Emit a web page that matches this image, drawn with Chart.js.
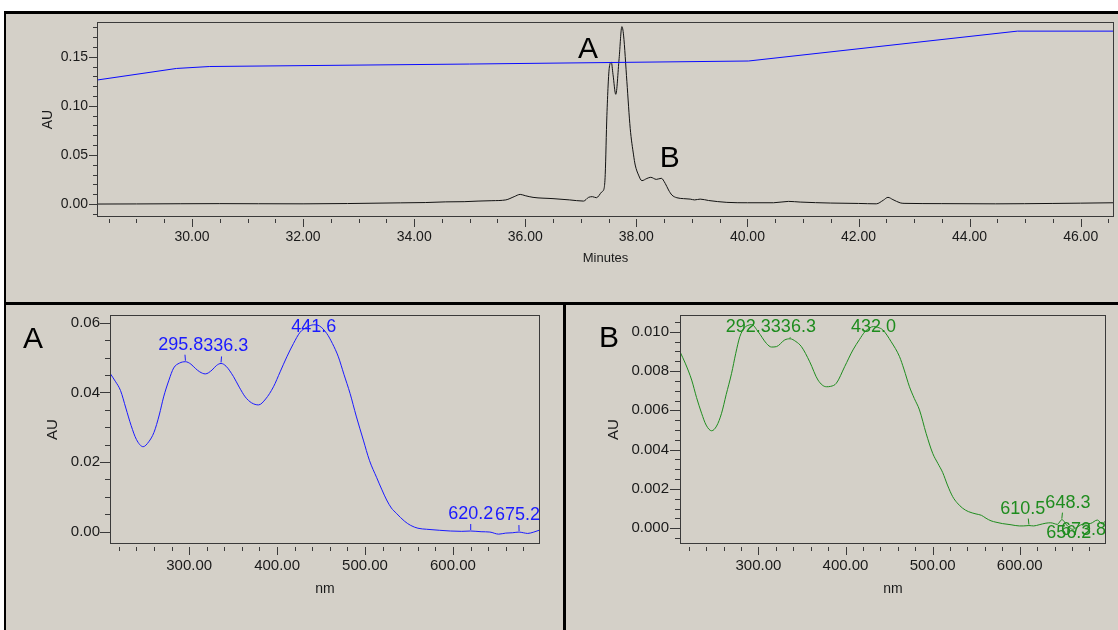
<!DOCTYPE html>
<html>
<head>
<meta charset="utf-8">
<script src="https://cdn.jsdelivr.net/npm/chart.js@4.4.1/dist/chart.umd.min.js"></script>
<style>
  html, body { margin: 0; padding: 0; background: #fff; width: 1118px; height: 630px; overflow: hidden; }
  .frame { position: absolute; left: 4px; top: 11px; width: 1114px; height: 619px; background: #000; }
  .panel { position: absolute; background: #d4d0c8; }
  .panel canvas { position: absolute; left: 0; top: 0; }
</style>
</head>
<body>
<div class="frame"></div>
<div class="panel" style="left:6px;top:14px;width:1112px;height:288px"><canvas id="chrom" width="1112" height="288"></canvas></div>
<div class="panel" style="left:6px;top:305px;width:557px;height:325px"><canvas id="specA" width="557" height="325"></canvas></div>
<div class="panel" style="left:566px;top:305px;width:552px;height:325px"><canvas id="specB" width="552" height="325"></canvas></div>
<script>
const FONT = "'Liberation Sans', Arial, Helvetica, sans-serif";

// ---- Chromatogram (AU vs retention time, minutes) ----
const retentionTime = [
  28.30, 29.00, 29.80, 30.50, 31.20, 32.00, 32.80, 33.75, 34.20, 34.57, 34.90, 35.15, 35.40, 35.65,
  35.80, 35.91, 36.00, 36.14, 36.50, 36.80, 37.05, 37.14, 37.21, 37.28, 37.38, 37.42, 37.44, 37.47,
  37.515, 37.55, 37.58, 37.63, 37.69, 37.74, 37.77, 37.83, 37.89, 37.95, 37.98, 38.04, 38.10, 38.19,
  38.26, 38.36, 38.45, 38.52, 38.58, 38.64, 38.73, 38.85, 38.97, 39.05, 39.15, 39.30, 39.63, 40.00,
  40.47, 40.74, 40.95, 41.50, 42.00, 42.32, 42.45, 42.53, 42.62, 42.75, 42.82, 43.50, 44.47, 45.50,
  46.00, 46.60
];
const absorbance = [
  0.0000, 0.0001, 0.0003, 0.0004, 0.0003, 0.0002, 0.0005, 0.0012, 0.0015, 0.0022, 0.0024, 0.0030, 0.0034, 0.0042,
  0.0075, 0.0098, 0.0085, 0.0068, 0.0055, 0.0042, 0.0030, 0.0068, 0.0075, 0.0064, 0.0125, 0.0160, 0.0300, 0.0900,
  0.1395, 0.1443, 0.1320, 0.1117, 0.1480, 0.1806, 0.1720, 0.1246, 0.0770, 0.0500, 0.0397, 0.0295, 0.0238, 0.0260,
  0.0272, 0.0251, 0.0262, 0.0210, 0.0143, 0.0092, 0.0064, 0.0055, 0.0050, 0.0042, 0.0050, 0.0036, 0.0017, 0.0013,
  0.0013, 0.0027, 0.0020, 0.0010, 0.0006, 0.0002, 0.0040, 0.0068, 0.0045, 0.0012, 0.0007, 0.0004, 0.0002, 0.0006,
  0.0009, 0.0013
];
const gradientTime  = [28.30, 29.72, 30.32, 35.00, 40.02, 44.86, 46.60];
const gradientLevel = [0.1263, 0.1380, 0.1400, 0.1425, 0.1456, 0.1760, 0.1760];
const timeTicks = [30, 32, 34, 36, 38, 40, 42, 44, 46];
const chromAuTicks = [0.00, 0.05, 0.10, 0.15];

// ---- UV/Vis spectra (AU vs wavelength, nm) ----
const wavelengthA = [
  210, 216, 222, 228, 234, 240, 247.7, 254, 260, 266, 271, 277, 282.4, 289, 295.8, 302, 307, 312, 318.4,
  326, 331, 336.3, 342, 350.5, 357, 363.8, 371, 378.9, 387, 395.9, 403.5, 411.1, 418.6, 426, 433.8, 441.6,
  448, 456.5, 463, 469.7, 476, 483, 490, 498.1, 505, 513.3, 519.3, 524.6, 530, 535.6, 545, 552, 560.2,
  570, 585, 597, 610, 620.2, 632, 642, 652, 660, 668, 675.2, 680, 685, 692, 699
];
const spectrumA = [
  0.0455, 0.0432, 0.0405, 0.0355, 0.0305, 0.0265, 0.0244, 0.0258, 0.0285, 0.0335, 0.0387, 0.0435, 0.0470, 0.0484, 0.0488, 0.0481, 0.0469, 0.0459, 0.0453,
  0.0464, 0.0477, 0.0483, 0.0475, 0.0445, 0.0415, 0.0387, 0.0370, 0.0364, 0.0381, 0.0416, 0.0459, 0.0502, 0.0540, 0.0572, 0.0587, 0.0594,
  0.0591, 0.0569, 0.0540, 0.0502, 0.0452, 0.0397, 0.0332, 0.0263, 0.0205, 0.0155, 0.0120, 0.0091, 0.0068, 0.0053, 0.0030, 0.0018, 0.0010,
  0.0007, 0.0004, 0.0002, 0.0001, 0.0002, 0.0000, -0.0001, -0.0007, -0.0004, -0.0003, -0.0001, -0.0003, -0.0005, -0.0001, 0.0005
];
const wavelengthB = [
  210, 216, 223.4, 229, 234.8, 240, 246.3, 252, 257.7, 263, 269.2, 274, 278.7, 284, 288, 292.3, 299.7, 309.3, 315,
  320.7, 330.2, 336.3, 343, 349.4, 358.9, 368.4, 378, 383, 389.5, 399, 408.5, 416, 421.9, 428, 432.0, 437, 442.8,
  452.4, 462, 467, 473.4, 479, 484.9, 492.5, 500.1, 506, 511.6, 517, 523, 528, 534.5, 541, 549.8, 556, 561.3,
  567, 572.7, 580, 590, 599.5, 604, 610.5, 616, 622.2, 630, 635.6, 643.2, 648.3, 654.7, 656.2, 660.4, 666,
  670, 673.8, 681.5, 689.1, 694.8, 699
];
const spectrumB = [
  0.00898, 0.00840, 0.00754, 0.00665, 0.00585, 0.00525, 0.00496, 0.00520, 0.00585, 0.00680, 0.00788, 0.00890, 0.00975, 0.01020, 0.01032, 0.01036, 0.01000, 0.00940, 0.00922,
  0.00924, 0.00958, 0.00964, 0.00950, 0.00924, 0.00847, 0.00754, 0.00720, 0.00722, 0.00738, 0.00822, 0.00907, 0.00960, 0.00998, 0.01020, 0.01026, 0.01022, 0.01009,
  0.00949, 0.00873, 0.00810, 0.00720, 0.00660, 0.00602, 0.00483, 0.00381, 0.00330, 0.00283, 0.00220, 0.00161, 0.00130, 0.00102, 0.00085, 0.00073, 0.00066, 0.00051,
  0.00038, 0.00031, 0.00024, 0.00018, 0.00012, 0.00012, 0.00014, 0.00012, 0.00018, 0.00026, 0.00028, 0.00020, 0.00044, 0.00012, 0.00008, -0.00005, 0.00006,
  0.00017, 0.00022, 0.00025, 0.00042, 0.00022, 0.00042
];
const nmTicks = [300, 400, 500, 600];
const spectrumAuTicksA = [0.00, 0.02, 0.04, 0.06];
const spectrumAuTicksB = [0.000, 0.002, 0.004, 0.006, 0.008, 0.010];
const apexWavelengthsA = [295.8, 336.3, 441.6, 620.2, 675.2];
const apexWavelengthsB = [292.3, 336.3, 432.0, 610.5, 648.3, 656.2, 673.8];

const toPoints = (xs, ys) => xs.map((x, i) => ({ x, y: ys[i] }));

// Plot frame plus major/minor tick marks drawn outside the plot area
const axisFrame = {
  id: 'axisFrame',
  afterDatasetsDraw(chart, args, o) {
    const { ctx, chartArea: a } = chart;
    const xs = chart.scales.x, ys = chart.scales.y;
    ctx.save();
    ctx.strokeStyle = o.color;
    ctx.lineWidth = 1;
    const L = Math.round(a.left) + 0.5, T = Math.round(a.top) + 0.5;
    const R = Math.round(a.right) - 0.5, B = Math.round(a.bottom) - 0.5;
    ctx.strokeRect(L, T, R - L, B - T);
    const each = (scale, step, fn) => {
      const n0 = Math.ceil(scale.min / step - 1e-6), n1 = Math.floor(scale.max / step + 1e-6);
      for (let n = n0; n <= n1; n++) fn(n * step);
    };
    const isMajor = (v, step) => Math.abs(v / step - Math.round(v / step)) < 1e-6;
    each(xs, o.xMinor, v => {
      const px = Math.round(xs.getPixelForValue(v)) + 0.5;
      const y0 = B + 0.5 + o.xGap;
      ctx.beginPath();
      ctx.moveTo(px, y0);
      ctx.lineTo(px, y0 + (isMajor(v, o.xMajor) ? o.xMajorLen : o.xMinorLen));
      ctx.stroke();
    });
    each(ys, o.yMinor, v => {
      const py = Math.round(ys.getPixelForValue(v)) + 0.5;
      ctx.beginPath();
      ctx.moveTo(L - 0.5, py);
      ctx.lineTo(L - 0.5 - (isMajor(v, o.yMajor) ? o.yMajorLen : o.yMinorLen), py);
      ctx.stroke();
    });
    ctx.restore();
  }
};

// Wavelength labels at spectral maxima, spread apart when they collide
const apexLabels = {
  id: 'apexLabels',
  afterDatasetsDraw(chart, args, o) {
    if (!o.values) return;
    const { ctx, chartArea: a } = chart;
    const xs = chart.scales.x, ys = chart.scales.y;
    const pts = chart.data.datasets[0].data;
    ctx.save();
    ctx.font = o.font;
    ctx.fillStyle = o.color;
    ctx.strokeStyle = o.color;
    ctx.lineWidth = 1;
    const items = o.values.map(v => {
      const p = pts.find(q => Math.abs(q.x - v) < 1e-6);
      const text = v.toFixed(1);
      const px = xs.getPixelForValue(v), py = ys.getPixelForValue(p.y);
      return { text, px, py, cx: px, w: ctx.measureText(text).width, row: 0 };
    }).sort((m, n) => m.px - n.px);
    const upper = [];
    items.forEach(it => {
      const prev = upper[upper.length - 1];
      if (prev && (prev.px + prev.w / 2) - (it.px - it.w / 2) > it.w / 3) it.row = 1;
      else upper.push(it);
    });
    for (let i = 1; i < upper.length; i++) {
      const p = upper[i - 1], c = upper[i];
      const ov = (p.cx + p.w / 2) - (c.cx - c.w / 2);
      if (ov > 0) { p.cx -= ov / 2; c.cx += ov / 2; }
    }
    items.forEach(it => {
      it.cx = Math.min(Math.max(it.cx, a.left + it.w / 2), a.right - it.w / 2);
      ctx.textAlign = 'center';
      ctx.textBaseline = 'alphabetic';
      if (it.row === 0) {
        const base = Math.max(it.py - 12, a.top + 17);
        ctx.fillText(it.text, it.cx, base);
        if (base + 5 < it.py - 1) {
          ctx.beginPath();
          ctx.moveTo(it.px + (it.cx - it.px) * 0.1, base + 5);
          ctx.lineTo(it.px, it.py - 1);
          ctx.stroke();
        }
      } else {
        ctx.fillText(it.text, it.cx, it.py + 11);
      }
    });
    ctx.restore();
  }
};

// Large peak letters
const peakTags = {
  id: 'peakTags',
  afterDraw(chart, args, o) {
    if (!o.items) return;
    const { ctx, chartArea: a } = chart;
    ctx.save();
    ctx.font = o.font;
    ctx.fillStyle = '#000';
    ctx.textAlign = 'center';
    ctx.textBaseline = 'alphabetic';
    o.items.forEach(t => {
      const x = t.time !== undefined ? chart.scales.x.getPixelForValue(t.time) : a.left + t.dx;
      const y = t.au !== undefined ? chart.scales.y.getPixelForValue(t.au) : a.top + t.dy;
      ctx.fillText(t.text, x, y);
    });
    ctx.restore();
  }
};

Chart.register(axisFrame, apexLabels, peakTags);

// Fixed axis box sizes; label overhang is not allowed to shrink the plot area
function fixBox(size, key) {
  return s => {
    s[key] = size;
    s.paddingTop = 0; s.paddingBottom = 0; s.paddingLeft = 0; s.paddingRight = 0;
  };
}

function scalePair(c) {
  const tickFont = { family: FONT, size: c.tickSize };
  return {
    x: {
      type: 'linear', min: c.xMin, max: c.xMax,
      afterBuildTicks: s => { s.ticks = c.xTicks.map(value => ({ value })); },
      afterFit: fixBox(c.xHeight, 'height'),
      grid: { display: false, drawTicks: false },
      border: { display: false },
      ticks: { autoSkip: false, maxRotation: 0, minRotation: 0, padding: c.xPad, color: '#1a1a1a', font: tickFont,
               callback: v => Number(v).toFixed(c.xDigits) },
      title: { display: true, text: c.xTitle, color: '#1a1a1a', font: { family: FONT, size: c.xTitleSize },
               padding: { top: 0, bottom: c.xTitlePad } }
    },
    y: {
      type: 'linear', min: c.yMin, max: c.yMax,
      afterBuildTicks: s => { s.ticks = c.yTicks.map(value => ({ value })); },
      afterFit: fixBox(c.yWidth, 'width'),
      grid: { display: false, drawTicks: false },
      border: { display: false },
      ticks: { autoSkip: false, padding: c.yPad, color: '#1a1a1a', font: tickFont,
               callback: v => Number(v).toFixed(c.yDigits) },
      title: { display: true, text: 'AU', color: '#1a1a1a', font: { family: FONT, size: c.yTitleSize },
               padding: { top: c.yTitlePad, bottom: 0 } }
    }
  };
}

const common = {
  responsive: false,
  animation: false,
  devicePixelRatio: 1,
  events: [],
  plugins: { legend: { display: false }, tooltip: { enabled: false } },
  elements: { point: { radius: 0 } }
};

new Chart(document.getElementById('chrom'), {
  type: 'line',
  data: {
    datasets: [
      { data: toPoints(gradientTime, gradientLevel), borderColor: '#0a0aff', borderWidth: 1, tension: 0 },
      { data: toPoints(retentionTime, absorbance), borderColor: '#111', borderWidth: 1, cubicInterpolationMode: 'monotone' }
    ]
  },
  options: {
    ...common,
    layout: { padding: { left: 0, top: 8, right: 4, bottom: 0 } },
    scales: scalePair({
      xMin: 28.29, xMax: 46.6, yMin: -0.0132, yMax: 0.1853,
      xTicks: timeTicks, yTicks: chromAuTicks, xDigits: 2, yDigits: 2,
      yWidth: 91, xHeight: 85, tickSize: 14, xPad: 12, yPad: 9,
      xTitle: 'Minutes', xTitleSize: 13, xTitlePad: 36, yTitleSize: 14, yTitlePad: 34
    }),
    plugins: {
      ...common.plugins,
      axisFrame: { color: '#3a3a3a', xMinor: 0.5, xMajor: 2, yMinor: 0.01, yMajor: 0.05,
                   xGap: 2, xMinorLen: 4, xMajorLen: 8, yMinorLen: 4, yMajorLen: 8 },
      peakTags: { font: `30px ${FONT}`, items: [
        { text: 'A', time: 37.13, au: 0.1487 },
        { text: 'B', time: 38.60, au: 0.0380 }
      ] }
    }
  }
});

new Chart(document.getElementById('specA'), {
  type: 'line',
  data: { datasets: [
    { data: toPoints(wavelengthA, spectrumA), borderColor: '#1a1aff', borderWidth: 1, cubicInterpolationMode: 'monotone' }
  ] },
  options: {
    ...common,
    layout: { padding: { left: 0, top: 10, right: 23, bottom: 0 } },
    scales: scalePair({
      xMin: 210, xMax: 699, yMin: -0.00353, yMax: 0.06221,
      xTicks: nmTicks, yTicks: spectrumAuTicksA, xDigits: 2, yDigits: 2,
      yWidth: 104, xHeight: 86, tickSize: 15, xPad: 13, yPad: 10,
      xTitle: 'nm', xTitleSize: 14, xTitlePad: 32, yTitleSize: 15, yTitlePad: 38
    }),
    plugins: {
      ...common.plugins,
      axisFrame: { color: '#3a3a3a', xMinor: 20, xMajor: 100, yMinor: 0.005, yMajor: 0.02,
                   xGap: 3, xMinorLen: 4, xMajorLen: 8, yMinorLen: 5, yMajorLen: 10 },
      apexLabels: { values: apexWavelengthsA, color: '#1a1aff', font: `18px ${FONT}` },
      peakTags: { font: `30px ${FONT}`, items: [{ text: 'A', dx: -77, dy: 33 }] }
    }
  }
});

new Chart(document.getElementById('specB'), {
  type: 'line',
  data: { datasets: [
    { data: toPoints(wavelengthB, spectrumB), borderColor: '#1e8c1e', borderWidth: 1, cubicInterpolationMode: 'monotone' }
  ] },
  options: {
    ...common,
    layout: { padding: { left: 0, top: 10, right: 12, bottom: 0 } },
    scales: scalePair({
      xMin: 210, xMax: 699, yMin: -0.000799, yMax: 0.010849,
      xTicks: nmTicks, yTicks: spectrumAuTicksB, xDigits: 2, yDigits: 3,
      yWidth: 114, xHeight: 86, tickSize: 15, xPad: 13, yPad: 11,
      xTitle: 'nm', xTitleSize: 14, xTitlePad: 32, yTitleSize: 15, yTitlePad: 39
    }),
    plugins: {
      ...common.plugins,
      axisFrame: { color: '#3a3a3a', xMinor: 20, xMajor: 100, yMinor: 0.0005, yMajor: 0.002,
                   xGap: 3, xMinorLen: 4, xMajorLen: 8, yMinorLen: 5, yMajorLen: 10 },
      apexLabels: { values: apexWavelengthsB, color: '#1e8c1e', font: `18px ${FONT}` },
      peakTags: { font: `30px ${FONT}`, items: [{ text: 'B', dx: -71, dy: 32 }] }
    }
  }
});
</script>
</body>
</html>
